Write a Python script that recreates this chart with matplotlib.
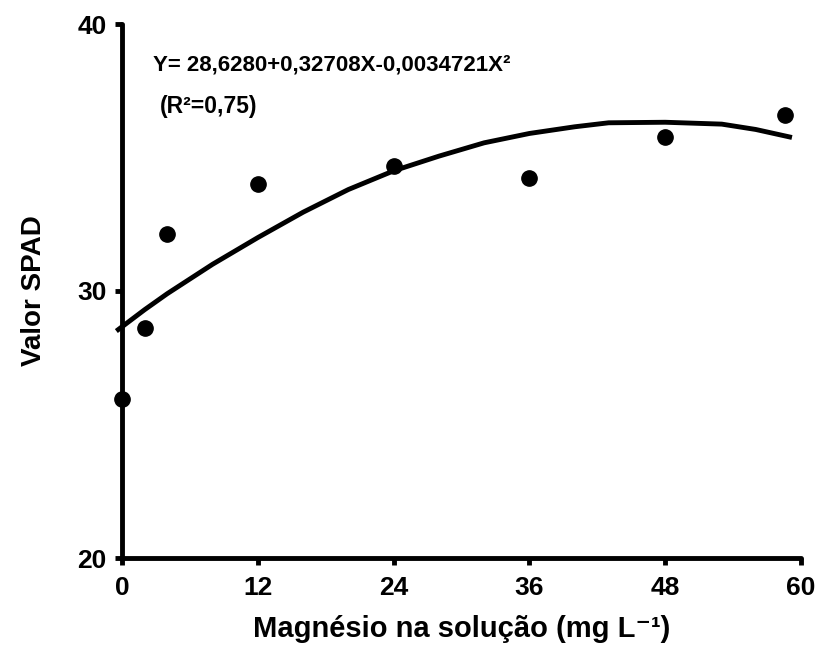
import numpy as np
import matplotlib.pyplot as plt

plt.rcParams['font.family'] = ['Liberation Sans', 'DejaVu Sans']
plt.rcParams['font.weight'] = 'bold'

# observed points
mg_obs = [0, 2, 4, 12, 24, 36, 48, 58.6]
spad_obs = [25.95, 28.6, 32.15, 34.0, 34.7, 34.25, 35.75, 36.6]

# fitted curve
mg_fit = [-0.5, 2, 4, 8, 12, 16, 20, 24, 28, 32, 36, 40, 43, 48, 53, 56, 59.2]
spad_fit = [28.5, 29.3, 29.9, 31.0, 32.0, 32.95, 33.8, 34.5, 35.05, 35.55, 35.9, 36.15,
            36.3, 36.32, 36.25, 36.05, 35.75]

xticks = [0, 12, 24, 36, 48, 60]
yticks = [20, 30, 40]

fig = plt.figure(figsize=(8.17, 6.47), dpi=100)
ax = fig.add_axes([122/817, 1-558/647, (801-122)/817, (558-24)/647])

ax.plot(mg_fit, spad_fit, color='black', lw=3.5, clip_on=False, solid_capstyle='butt')
ax.plot(mg_obs, spad_obs, 'o', color='black', ms=11, clip_on=False, zorder=5)

ax.set_xlim(0, 60)
ax.set_ylim(20, 40)
ax.set_xticks(xticks)
ax.set_yticks(yticks)
for s in ['top', 'right']:
    ax.spines[s].set_visible(False)
for s in ['left', 'bottom']:
    ax.spines[s].set_linewidth(3.5)
    ax.spines[s].set_capstyle('round')
ax.tick_params(axis='both', length=5, width=3.5, labelsize=19, direction='out')
ax.tick_params(axis='y', pad=6)
ax.tick_params(axis='x', pad=8)

ax.set_xlabel('Magnésio na solução (mg L⁻¹)', fontsize=21, fontweight='bold', labelpad=11)
ax.set_ylabel('Valor SPAD', fontsize=20, fontweight='bold', labelpad=22)

fig.text(153/817, 1-65/647, 'Y= 28,6280+0,32708X-0,0034721X²', fontsize=16,
         fontweight='bold', va='center', ha='left')
fig.text(160/817, 1-106/647, '(R²=0,75)', fontsize=16.5, fontweight='bold',
         va='center', ha='left')

fig.savefig('out.png', dpi=100)
